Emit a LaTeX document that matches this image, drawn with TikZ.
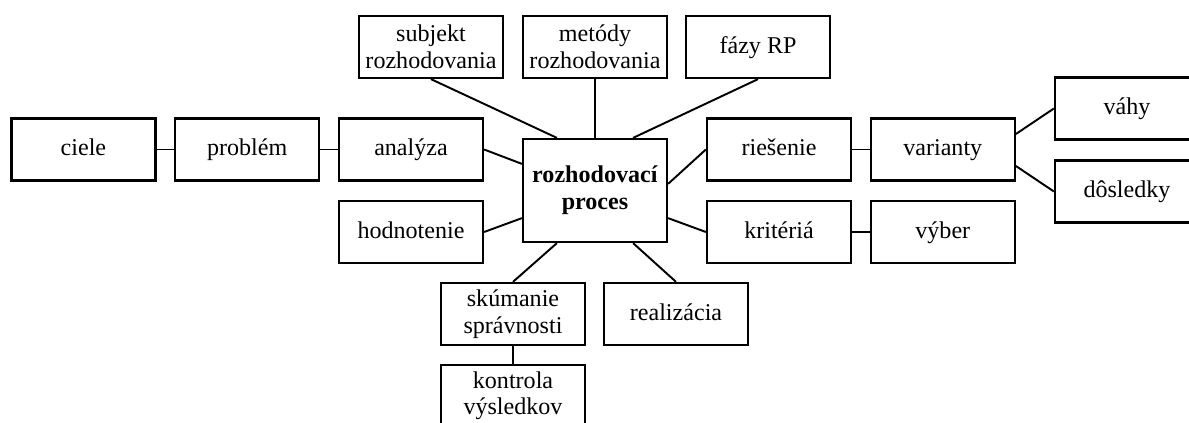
\documentclass[tikz,border=0pt]{standalone}
\usepackage{fontspec}
\setmainfont{Liberation Serif}
\usetikzlibrary{positioning}
\tikzstyle{topic} = [rectangle, minimum width=2.88cm, minimum height=1.24cm, text centered, align=center, draw=black, line width=1.3pt, font=\fontsize{13.7}{15.3}\selectfont]
\tikzstyle{single} = [topic, text height=0.92em, text depth=0.22em]
\tikzstyle{core} = [topic, minimum height=2.06cm]
\tikzstyle{link} = [line width=1.1pt]

\begin{document}
\begin{tikzpicture}[node distance=0.35cm]
		\clip (0,0) rectangle (23.78,-8.46);

		\node (proc) [core] at (11.9,-3.81) {\textbf{rozhodovací}\\\textbf{proces}};

		\node (subjekt) [topic] at (8.62,-0.94) {subjekt\\rozhodovania};
		\node (metody) [topic] at (11.9,-0.94) {metódy\\rozhodovania};
		\node (fazy) [single] at (15.16,-0.94) {fázy RP};

		\node (analyza) [single] at (8.22,-2.99) {analýza};
		\node (problem) [single, left=of analyza] {problém};
		\node (ciele) [single, left=of problem] {ciele};
		\node (hodnotenie) [single] at (8.22,-4.64) {hodnotenie};

		\node (riesenie) [single] at (15.58,-2.99) {riešenie};
		\node (varianty) [single, right=of riesenie] {varianty};
		\node (kriteria) [single] at (15.58,-4.64) {kritériá};
		\node (vyber) [single, right=of kriteria] {výber};
		\node (vahy) [single] at (22.54,-2.17) {váhy};
		\node (dosledky) [single] at (22.54,-3.83) {dôsledky};

		\node (skumanie) [topic] at (10.26,-6.28) {skúmanie\\správnosti};
		\node (kontrola) [topic, below=of skumanie] {kontrola\\výsledkov};
		\node (realizacia) [single] at (13.52,-6.28) {realizácia};

		% spokes
		\draw [link] (subjekt.south) -- ([xshift=0.7cm]proc.north west);
		\draw [link] (metody.south) -- (proc.north);
		\draw [link] (fazy.south) -- ([xshift=-0.7cm]proc.north east);
		\draw [link] (analyza.east) -- ([yshift=-0.52cm]proc.north west);
		\draw [link] (hodnotenie.east) -- ([yshift=0.5cm]proc.south west);
		\draw [link] (riesenie.west) -- ([yshift=-0.92cm]proc.north east);
		\draw [link] (kriteria.west) -- ([yshift=0.5cm]proc.south east);
		\draw [link] (skumanie.north) -- ([xshift=0.7cm]proc.south west);
		\draw [link] (realizacia.north) -- ([xshift=-0.7cm]proc.south east);

		% chains
		\draw [link] (ciele) -- (problem);
		\draw [link] (problem) -- (analyza);
		\draw [link] (riesenie) -- (varianty);
		\draw [link] (kriteria) -- (vyber);
		\draw [link] ([yshift=0.31cm]varianty.east) -- (vahy.west);
		\draw [link] ([yshift=-0.33cm]varianty.east) -- (dosledky.west);
		\draw [link] (skumanie) -- (kontrola);
	\end{tikzpicture}
\end{document}
